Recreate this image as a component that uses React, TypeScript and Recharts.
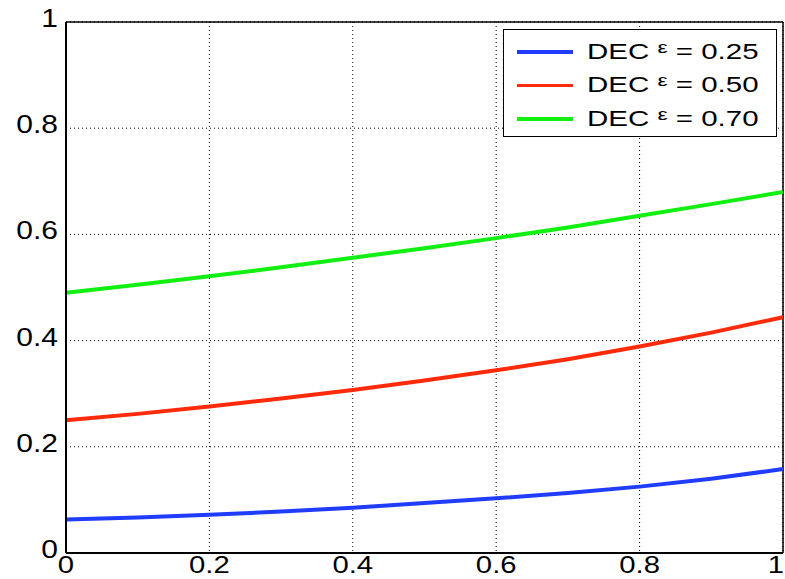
import React from "react";
import { LineChart, Line, XAxis, YAxis, CartesianGrid, ReferenceLine } from "recharts";

const xValues = [0, 0.1, 0.2, 0.3, 0.4, 0.5, 0.6, 0.7, 0.8, 0.9, 1];
const dec025 = [0.063, 0.067, 0.072, 0.078, 0.085, 0.094, 0.103, 0.113, 0.125, 0.14, 0.158];
const dec050 = [0.25, 0.262, 0.276, 0.291, 0.307, 0.325, 0.344, 0.365, 0.389, 0.415, 0.444];
const dec070 = [0.49, 0.505, 0.521, 0.538, 0.556, 0.574, 0.593, 0.613, 0.635, 0.657, 0.68];
const ticks = [0, 0.2, 0.4, 0.6, 0.8, 1];
const tickLabels = ["0", "0.2", "0.4", "0.6", "0.8", "1"];
const seriesNames = ["DEC ε = 0.25", "DEC ε = 0.50", "DEC ε = 0.70"];
const colors = ["#1f3cff", "#ff2a0a", "#12f012"];

const data = xValues.map((x, i) => ({ x, a: dec025[i], b: dec050[i], c: dec070[i] }));

const FONT = "'Liberation Sans', Arial, Helvetica, sans-serif";

const fmt = (v: number) => tickLabels[ticks.indexOf(v)] ?? String(v);

const XTick = (props: any) => {
  const { x, y, payload } = props;
  const label = fmt(payload.value);
  const isLast = payload.value === 1;
  return (
    <g transform={`translate(${isLast ? x + 1 : x},${y + 20})`}>
      <text
        transform="scale(1.22,1)"
        textAnchor={isLast ? "end" : "middle"}
        fontSize={24}
        fontFamily={FONT}
        fill="#000"
      >
        {label}
      </text>
    </g>
  );
};

const YTick = (props: any) => {
  const { y, payload } = props;
  return (
    <g transform={`translate(${58},${y + 5})`}>
      <text transform="scale(1.2,1)" textAnchor="end" fontSize={25} fontFamily={FONT} fill="#000">
        {fmt(payload.value)}
      </text>
    </g>
  );
};

const LegendBox = () => (
  <div
    style={{
      position: "absolute",
      left: 503,
      top: 29,
      width: 274,
      height: 108,
      border: "1.5px solid #000",
      background: "#fff",
      fontFamily: FONT,
      fontSize: 22,
      color: "#000",
      boxSizing: "border-box",
      paddingTop: 5,
    }}
  >
    {seriesNames.map((name, i) => {
      const [pre, post] = name.split("ε");
      return (
        <div key={i} style={{ display: "flex", alignItems: "center", height: 33.5, position: "relative" }}>
          <div style={{ width: 56, height: 3.5, background: colors[i], marginLeft: 13 }} />
          <span
            style={{
              whiteSpace: "nowrap",
              position: "absolute",
              left: 83,
              transform: "scaleX(1.34)",
              transformOrigin: "left center",
            }}
          >
            {pre}
            <span style={{ fontSize: 17, position: "relative", top: -6 }}>ε</span>
            {post}
          </span>
        </div>
      );
    })}
  </div>
);

export default function App() {
  return (
    <div style={{ position: "absolute", left: 0, top: 0, width: 785, height: 579, background: "#fff" }}>
      <LineChart
        width={785}
        height={579}
        data={data}
        margin={{ top: 22, right: 2, left: 0, bottom: 0 }}
      >
        <CartesianGrid stroke="#000" strokeDasharray="1 3" strokeWidth={1} />
        <XAxis
          dataKey="x"
          type="number"
          domain={[0, 1]}
          ticks={ticks}
          height={26}
          tickSize={0}
          tickMargin={0}
          axisLine={{ stroke: "#000", strokeWidth: 2 }}
          tick={<XTick />}
          interval={0}
        />
        <YAxis
          type="number"
          domain={[0, 1]}
          ticks={ticks}
          width={66}
          tickSize={0}
          tickMargin={0}
          axisLine={{ stroke: "#000", strokeWidth: 2 }}
          tick={<YTick />}
          interval={0}
        />
        <ReferenceLine y={1} stroke="#000" strokeWidth={1.5} />
        <ReferenceLine x={1} stroke="#000" strokeWidth={1.5} />
        <Line dataKey="a" name={seriesNames[0]} stroke={colors[0]} strokeWidth={4} dot={false} isAnimationActive={false} />
        <Line dataKey="b" name={seriesNames[1]} stroke={colors[1]} strokeWidth={4} dot={false} isAnimationActive={false} />
        <Line dataKey="c" name={seriesNames[2]} stroke={colors[2]} strokeWidth={4} dot={false} isAnimationActive={false} />
      </LineChart>
      <LegendBox />
    </div>
  );
}
